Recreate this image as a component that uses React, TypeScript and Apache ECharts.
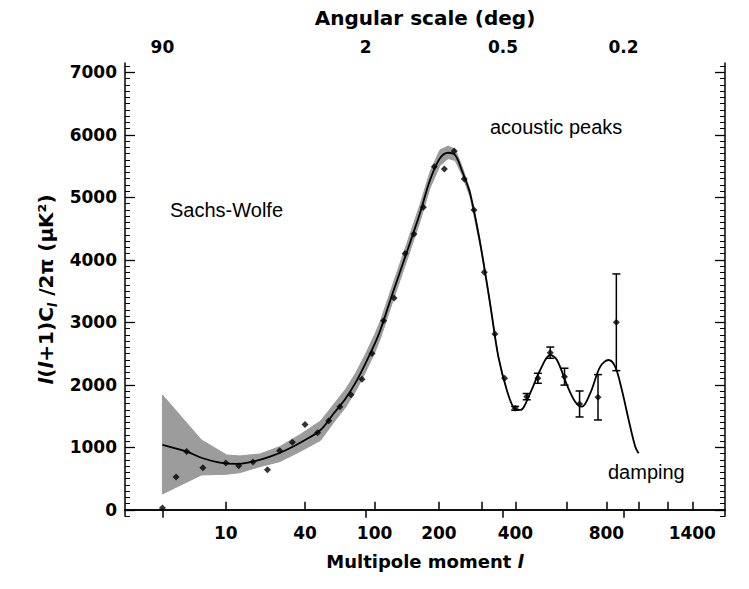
import React, { useEffect, useRef } from "react";
import * as echarts from "echarts";

// ---------- data ----------
const xTickL = [10, 40, 100, 200, 300, 400, 600, 800, 1000, 1200, 1400];
const xLabelL = [10, 40, 100, 200, 400, 800, 1400];
const topTickL = [2, 90, 360, 900];
const topTickLabels = ["90", "2", "0.5", "0.2"];
const yMajor = [0, 1000, 2000, 3000, 4000, 5000, 6000, 7000];
const yMinor = [-100, 0, 100, 200, 300, 400, 500, 600, 700, 800, 900, 1000, 1100, 1200, 1300, 1400, 1500, 1600, 1700, 1800, 1900, 2000, 2100, 2200, 2300, 2400, 2500, 2600, 2700, 2800, 2900, 3000, 3100, 3200, 3300, 3400, 3500, 3600, 3700, 3800, 3900, 4000, 4100, 4200, 4300, 4400, 4500, 4600, 4700, 4800, 4900, 5000, 5100, 5200, 5300, 5400, 5500, 5600, 5700, 5800, 5900, 6000, 6100, 6200, 6300, 6400, 6500, 6600, 6700, 6800, 6900, 7000, 7100];

// model curve
const modelL = [2, 4, 6, 8.8, 12.4, 17, 23, 30, 39, 50, 60, 70, 80, 90, 100, 107, 123, 143, 165, 183, 202, 219, 234, 249, 269, 295, 322, 346, 372, 399, 416, 451, 489, 529, 557, 601, 639, 671, 713, 766, 812, 850, 890, 932, 974, 996];
const modelV = [1037, 930, 824, 754, 733, 770, 850, 957, 1101, 1277, 1544, 1780, 2050, 2350, 2650, 2877, 3464, 4104, 4744, 5277, 5624, 5714, 5677, 5437, 5064, 4264, 3304, 2450, 1917, 1608, 1597, 1864, 2237, 2477, 2397, 1997, 1730, 1650, 1864, 2290, 2397, 2290, 1917, 1437, 1010, 904];

// cosmic-variance band
const bandL = [2, 5.8, 10.2, 13.3, 19.3, 27, 37, 50, 60, 70, 80, 90, 100, 107, 123, 143, 165, 183, 202, 219, 234, 249, 269, 295, 322, 346, 372];
const bandLo = [253, 557, 568, 594, 690, 770, 930, 1110, 1400, 1640, 1910, 2210, 2510, 2740, 3330, 3970, 4610, 5150, 5510, 5620, 5590, 5370, 5010, 4220, 3270, 2430, 1905];
const bandHi = [1837, 1117, 877, 861, 893, 1010, 1200, 1420, 1690, 1930, 2200, 2500, 2800, 3020, 3600, 4240, 4880, 5410, 5760, 5820, 5770, 5510, 5120, 4310, 3340, 2470, 1930];

// measured points
const pointL = [2, 3, 4, 6, 10, 13, 17, 22, 27, 33, 40, 48, 56, 65, 75, 86, 97, 111, 125, 141, 155, 171, 191, 211, 232, 255, 279, 306, 336, 365, 399, 439, 480, 529, 590, 660, 754, 857];
const pointV = [30, 525, 933, 674, 747, 706, 763, 642, 944, 1081, 1363, 1231, 1426, 1650, 1840, 2090, 2500, 3026, 3389, 4102, 4413, 4840, 5488, 5453, 5741, 5293, 4797, 3800, 2813, 2104, 1624, 1810, 2104, 2514, 2130, 1693, 1800, 3000];

// error bars
const errL = [399, 439, 480, 529, 590, 660, 754, 857];
const errV = [1624, 1810, 2104, 2514, 2130, 1693, 1800, 3000];
const errE = [30, 50, 80, 90, 135, 208, 363, 774];

const fwd = (l: number) => Math.pow(l, 0.25);
const X_MIN = fwd(0.5);
const X_MAX = fwd(1700);
const Y_MIN = -100;
const Y_MAX = 7150;

const LABEL_FONT = "DejaVu Sans";

export default function App() {
  const ref = useRef<HTMLDivElement>(null);
  useEffect(() => {
    if (!ref.current) return;
    const chart = echarts.init(ref.current, null, { renderer: "svg" });

    const axisLine = { show: true, lineStyle: { color: "#000", width: 1.5 } };
    const yAxisBase = { type: "value", min: Y_MIN, max: Y_MAX, splitLine: { show: false } };
    const labelStyle = { color: "#000", fontSize: 17, fontWeight: "bold", fontFamily: LABEL_FONT };

    const option: any = {
      animation: false,
      backgroundColor: "#fff",
      grid: { left: 125, right: 24, top: 63, bottom: 73, containLabel: false },
      xAxis: [
        {
          type: "value",
          position: "bottom",
          min: X_MIN,
          max: X_MAX,
          axisLine,
          splitLine: { show: false },
          axisTick: {
            show: true,
            inside: true,
            length: 8,
            lineStyle: { color: "#000", width: 1.5 },
            customValues: xTickL.map(fwd),
          },
          axisLabel: {
            show: true,
            margin: 8,
            ...labelStyle,
            customValues: xLabelL.map(fwd),
            formatter: (v: number) => String(Math.round(Math.pow(v, 4))),
          },
          name: "Multipole moment {i|l}",
          nameLocation: "middle",
          nameGap: 36,
          nameTextStyle: {
            ...labelStyle,
            fontSize: 18,
            rich: { i: { ...labelStyle, fontSize: 18, fontStyle: "italic" } },
          },
        },
        {
          type: "value",
          position: "top",
          min: X_MIN,
          max: X_MAX,
          axisLine,
          splitLine: { show: false },
          axisTick: {
            show: true,
            inside: true,
            length: 8,
            lineStyle: { color: "#000", width: 1.5 },
            customValues: topTickL.map(fwd),
          },
          axisLabel: {
            show: true,
            margin: 8,
            ...labelStyle,
            customValues: topTickL.map(fwd),
            formatter: (v: number) => {
              const l = Math.round(Math.pow(v, 4));
              const i = topTickL.indexOf(l);
              return i >= 0 ? topTickLabels[i] : "";
            },
          },
          name: "Angular scale (deg)",
          nameLocation: "middle",
          nameGap: 35,
          nameTextStyle: { ...labelStyle, fontSize: 20 },
        },
      ],
      yAxis: [
        {
          ...yAxisBase,
          position: "left",
          axisLine,
          axisTick: { show: true, inside: true, length: 10, lineStyle: { color: "#000", width: 1.3 }, customValues: yMajor },
          axisLabel: {
            show: true,
            margin: 8,
            ...labelStyle,
            customValues: yMajor,
            formatter: (v: number) => String(v),
          },
          name: "{i|l}({i|l}+1)C{s|l} /2π (μK²)",
          nameLocation: "middle",
          nameRotate: 90,
          nameGap: 66,
          nameTextStyle: {
            ...labelStyle,
            fontSize: 20,
            lineHeight: 26,
            rich: {
              i: { ...labelStyle, fontSize: 20, fontStyle: "italic", lineHeight: 26 },
              s: { ...labelStyle, fontStyle: "italic", fontSize: 13, lineHeight: 26, verticalAlign: "bottom" },
            },
          },
        },
        {
          ...yAxisBase,
          position: "left",
          axisLine: { show: false },
          axisTick: { show: true, inside: true, length: 5, lineStyle: { color: "#000", width: 1 }, customValues: yMinor },
          axisLabel: { show: false },
        },
        {
          ...yAxisBase,
          position: "right",
          axisLine,
          axisTick: { show: true, inside: true, length: 10, lineStyle: { color: "#000", width: 1.3 }, customValues: yMajor },
          axisLabel: { show: false },
        },
        {
          ...yAxisBase,
          position: "right",
          axisLine: { show: false },
          axisTick: { show: true, inside: true, length: 5, lineStyle: { color: "#000", width: 1 }, customValues: yMinor },
          axisLabel: { show: false },
        },
      ],
      series: [
        {
          type: "custom",
          name: "band",
          xAxisIndex: 0,
          yAxisIndex: 0,
          z: 1,
          silent: true,
          encode: { x: 0, y: 1 },
          data: bandL.map((l, i) => [fwd(l), bandLo[i], bandHi[i]]),
          renderItem: (params: any, api: any) => {
            if (params.dataIndex !== 0) return null;
            const upper = bandL.map((l, i) => api.coord([fwd(l), bandHi[i]]));
            const lower = bandL.map((l, i) => api.coord([fwd(l), bandLo[i]])).reverse();
            return {
              type: "polygon",
              shape: { points: upper.concat(lower) },
              style: { fill: "#9c9c9c", stroke: "#9c9c9c", lineWidth: 1 },
            };
          },
        },
        {
          type: "line",
          name: "model",
          xAxisIndex: 0,
          yAxisIndex: 0,
          z: 2,
          smooth: 0.35,
          showSymbol: false,
          symbol: "none",
          lineStyle: { color: "#000", width: 1.8 },
          data: modelL.map((l, i) => [fwd(l), modelV[i]]),
        },
        {
          type: "custom",
          name: "errors",
          xAxisIndex: 0,
          yAxisIndex: 0,
          z: 3,
          encode: { x: 0, y: 1 },
          data: errL.map((l, i) => [fwd(l), errV[i], errE[i]]),
          renderItem: (params: any, api: any) => {
            const x = api.value(0);
            const y = api.value(1);
            const e = api.value(2);
            const top = api.coord([x, y + e]);
            const bot = api.coord([x, y - e]);
            const cap = 4;
            const st = { stroke: "#000", lineWidth: 1.5 };
            return {
              type: "group",
              children: [
                { type: "line", shape: { x1: top[0], y1: top[1], x2: bot[0], y2: bot[1] }, style: st },
                { type: "line", shape: { x1: top[0] - cap, y1: top[1], x2: top[0] + cap, y2: top[1] }, style: st },
                { type: "line", shape: { x1: bot[0] - cap, y1: bot[1], x2: bot[0] + cap, y2: bot[1] }, style: st },
              ],
            };
          },
        },
        {
          type: "scatter",
          name: "data",
          xAxisIndex: 0,
          yAxisIndex: 0,
          z: 4,
          symbol: "diamond",
          symbolSize: [7, 7],
          itemStyle: { color: "#000" },
          data: pointL.map((l, i) => [fwd(l), pointV[i]]),
        },
      ],
      graphic: [
        {
          type: "text",
          x: 490,
          y: 127,
          style: { text: "acoustic peaks", fontSize: 20, fontFamily: "Liberation Sans", fill: "#000", verticalAlign: "middle" },
        },
        {
          type: "text",
          x: 170,
          y: 210,
          style: { text: "Sachs-Wolfe", fontSize: 20, fontFamily: "Liberation Sans", fill: "#000", verticalAlign: "middle" },
        },
        {
          type: "text",
          x: 608,
          y: 472,
          style: { text: "damping", fontSize: 20, fontFamily: "Liberation Sans", fill: "#000", verticalAlign: "middle" },
        },
      ],
    };

    chart.setOption(option);
    return () => chart.dispose();
  }, []);

  return (
    <div
      ref={ref}
      style={{ position: "absolute", left: 0, top: 0, width: 749, height: 589, background: "#fff" }}
    />
  );
}
